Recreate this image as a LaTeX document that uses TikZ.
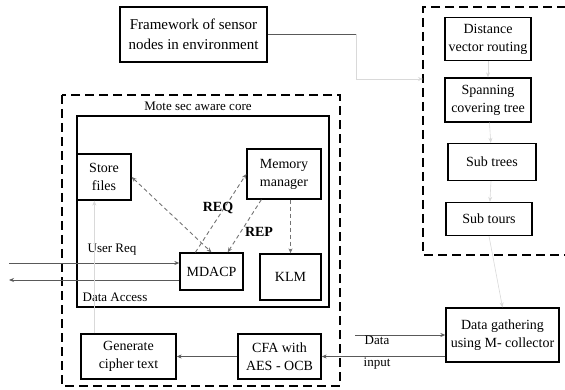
\documentclass[tikz,border=0pt]{standalone}
\usepackage{fontspec}
\setmainfont{Liberation Serif}
\usetikzlibrary{positioning, arrows.meta, calc}

\begin{document}
\begin{tikzpicture}[
    x=1pt, y=-1pt,
    >={Stealth[length=5pt, width=4pt]},
    block/.style={rectangle, draw=black, line width=1.3pt, fill=white, align=center, inner sep=2pt, font=\fontsize{14}{18}\selectfont},
    frame/.style={draw=black, line width=1.6pt, dash pattern=on 9pt off 5pt},
    link/.style={draw=black!65, line width=0.9pt},
    dlink/.style={draw=black!55, line width=0.9pt, dash pattern=on 4pt off 3pt},
    faint/.style={draw=black!15, line width=0.6pt},
    lbl/.style={font=\fontsize{13}{22}\selectfont, inner sep=1pt, align=center}
]
\useasboundingbox (0,0) rectangle (565,390);

\draw[frame] (566,7) -- (423,7) -- (423,255) -- (566,255);
\draw[frame] (62,95) rectangle (340,386);
\draw[line width=1.6pt] (77,116) rectangle (329,307);
\node[lbl] (core_lbl) at (198,106) {Mote sec aware core};

\node[block, minimum width=147pt, minimum height=55pt, font=\fontsize{15}{20}\selectfont] (fw) at (193.5,34.5) {Framework of sensor\\nodes in environment};
\node[block, minimum width=86pt, minimum height=43pt] (dvr) at (488,39) {Distance\\vector routing};
\node[block, minimum width=86pt, minimum height=44pt] (sct) at (488,100) {Spanning\\covering tree};
\node[block, minimum width=88pt, minimum height=37pt] (sub_trees) at (492,162) {Sub trees};
\node[block, minimum width=86pt, minimum height=33pt] (sub_tours) at (489,219) {Sub tours};

\node[block, minimum width=54pt, minimum height=46pt] (store) at (104,177) {Store\\files};
\node[block, minimum width=74pt, minimum height=50pt] (mem) at (284,174) {Memory\\manager};
\node[block, minimum width=63pt, minimum height=37pt] (mdacp) at (211.5,271.5) {MDACP};
\node[block, minimum width=61pt, minimum height=46pt] (klm) at (290.5,277) {KLM};
\node[block, minimum width=95pt, minimum height=45pt] (gen) at (128.5,356.5) {Generate\\cipher text};
\node[block, minimum width=83pt, minimum height=45pt] (cfa) at (279.5,356.5) {CFA with\\AES - OCB};
\node[block, minimum width=113pt, minimum height=54pt] (dg) at (502.5,335) {Data gathering\\using M- collector};

\coordinate (fw_bend) at (356,79);
\coordinate (rbox_in) at (423,79);
\coordinate (ureq_in) at (9,263);
\coordinate (dacc_out) at (9,280);
\coordinate (dg_in) at (355,335);

\draw[link] (fw.east) -- (fw.east -| fw_bend);
\draw[faint, ->] (fw.east -| fw_bend) -- (fw_bend) -- (rbox_in);
\draw[faint, ->] (dvr) -- (sct);
\draw[faint, ->] (sct) -- (sub_trees);
\draw[faint, ->] (sub_trees) -- (sub_tours);
\draw[faint, ->] (sub_tours.south) -- (dg.north);

\draw[link, ->] (ureq_in) -- (ureq_in -| mdacp.west);
\draw[link, ->] (dacc_out -| mdacp.west) -- (dacc_out);
\node[lbl] (ureq_lbl) at (112,250) {User Req};
\node[lbl] (dacc_lbl) at (115,297) {Data Access};

\draw[dlink, <->] (store.east) -- (mdacp.north);
\draw[dlink, ->] ($(mdacp.north west)+(16,0)$) -- (mem.west);
\draw[dlink, ->] ($(mem.south west)+(15,0)$) -- ($(mdacp.north east)+(-16,0)$);
\draw[dlink, ->] (mem.south -| klm) -- (klm.north);
\node[lbl, font=\fontsize{14}{16}\selectfont\bfseries] (req_lbl) at (218,208) {REQ};
\node[lbl, font=\fontsize{14}{16}\selectfont\bfseries] (rep_lbl) at (259,232) {REP};

\draw[faint, ->] ($(gen.north west)+(14,0)$) -- ($(store.south west)+(18,0)$);
\draw[link, ->] (cfa) -- (gen);
\draw[link, ->] (dg_in) -- (dg_in -| dg.west);
\draw[link, ->] (cfa.east -| dg.west) -- (cfa.east);
\node[lbl] (din_lbl) at (377,353) {Data\\input};
\end{tikzpicture}
\end{document}
